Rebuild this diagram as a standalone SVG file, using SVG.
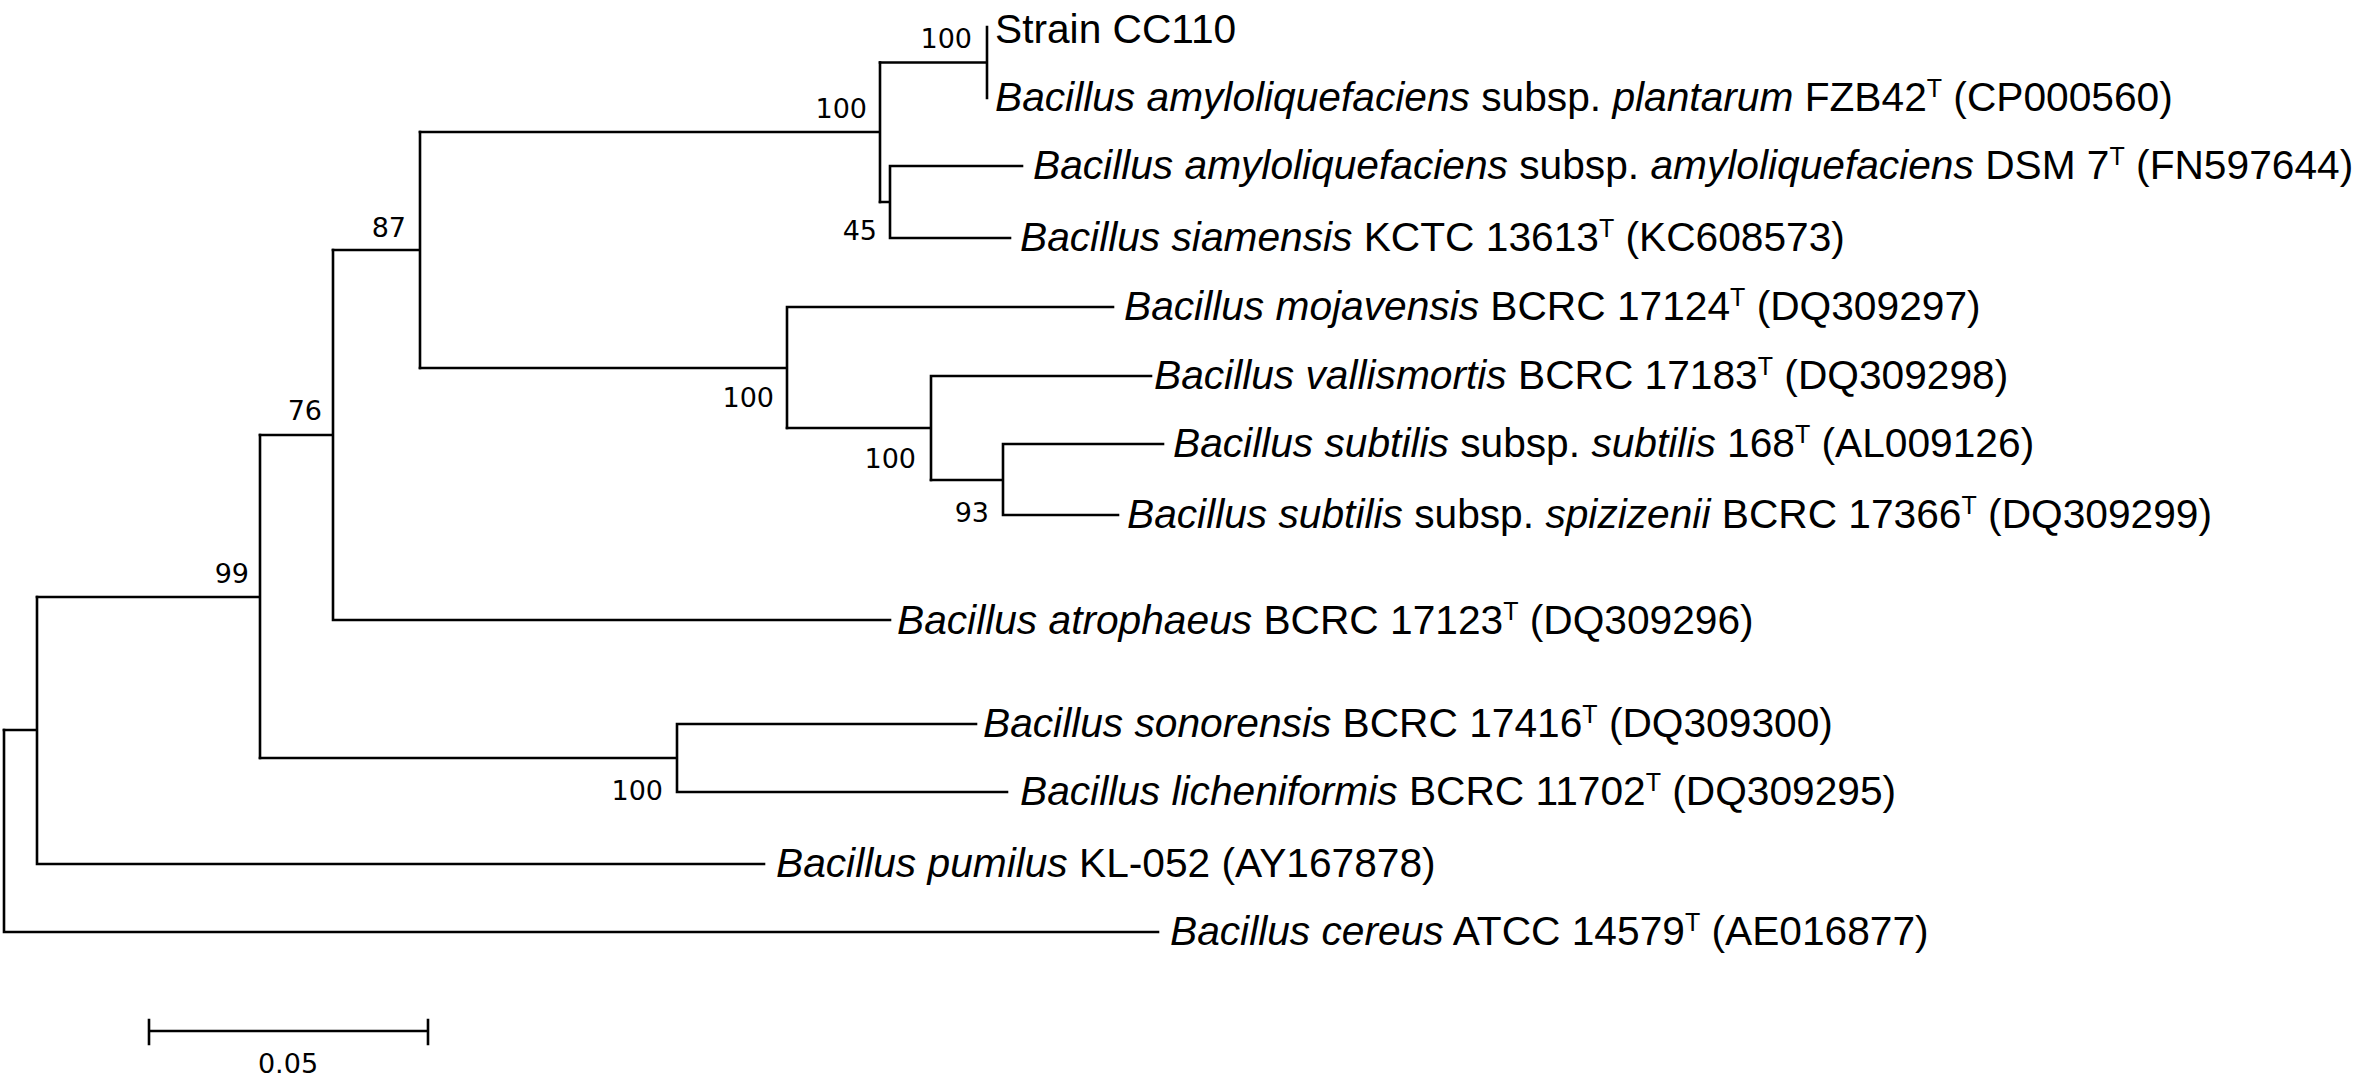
<svg xmlns="http://www.w3.org/2000/svg" width="2362" height="1084" viewBox="0 0 2362 1084">
<style>
.br{fill:none;stroke:#000;stroke-width:2.6;stroke-linecap:square}
.lb{font-family:"Liberation Sans",Arial,sans-serif;font-size:40.7px;fill:#000}
.i{font-style:italic}
.sup{font-size:25px}
.bs{font-family:"DejaVu Sans",Verdana,sans-serif;font-size:27px;fill:#000;text-anchor:end}
.sc{font-family:"DejaVu Sans",Verdana,sans-serif;font-size:27px;fill:#000;text-anchor:middle}
</style>
<rect width="2362" height="1084" fill="#fff"/>
<g id="connectors" class="br">
<path d="M987 27V98M880 62.5H987"/>
<path d="M880 62.5V202M420 132H880"/>
<path d="M890 166V238M880 202H890M890 166H1022M890 238H1010"/>
<path d="M420 132V368M333 250H420"/>
<path d="M787 307V428M420 368H787M787 307H1113"/>
<path d="M931 376V480M787 428H931M931 376H1151"/>
<path d="M1003 444V515M931 480H1003M1003 444H1163M1003 515H1118"/>
<path d="M333 250V620M260 435H333M333 620H890"/>
<path d="M677 724V792M260 758H677M677 724H976M677 792H1007"/>
<path d="M260 435V758M37 597H260"/>
<path d="M37 597V864M4 730H37M37 864H764"/>
<path d="M4 730V932M4 932H1158"/>
</g>
<g id="leaf-cc110"><text class="lb" x="995" y="43">Strain CC110</text></g>
<g id="leaf-fzb42"><text class="lb" x="995" y="111"><tspan class="i">Bacillus amyloliquefaciens</tspan> subsp. <tspan class="i">plantarum</tspan> FZB42<tspan class="sup" dy="-14">T</tspan><tspan dy="14"> (CP000560)</tspan></text></g>
<g id="leaf-dsm7"><text class="lb" x="1033" y="179"><tspan class="i">Bacillus amyloliquefaciens</tspan> subsp. <tspan class="i">amyloliquefaciens</tspan> DSM 7<tspan class="sup" dy="-14">T</tspan><tspan dy="14"> (FN597644)</tspan></text></g>
<g id="leaf-siamensis"><text class="lb" x="1020" y="251"><tspan class="i">Bacillus siamensis</tspan> KCTC 13613<tspan class="sup" dy="-14">T</tspan><tspan dy="14"> (KC608573)</tspan></text></g>
<g id="leaf-mojavensis"><text class="lb" x="1124" y="320"><tspan class="i">Bacillus mojavensis</tspan> BCRC 17124<tspan class="sup" dy="-14">T</tspan><tspan dy="14"> (DQ309297)</tspan></text></g>
<g id="leaf-vallismortis"><text class="lb" x="1154" y="389"><tspan class="i">Bacillus vallismortis</tspan> BCRC 17183<tspan class="sup" dy="-14">T</tspan><tspan dy="14"> (DQ309298)</tspan></text></g>
<g id="leaf-subtilis"><text class="lb" x="1173" y="457"><tspan class="i">Bacillus subtilis</tspan> subsp. <tspan class="i">subtilis</tspan> 168<tspan class="sup" dy="-14">T</tspan><tspan dy="14"> (AL009126)</tspan></text></g>
<g id="leaf-spizizenii"><text class="lb" x="1127" y="528"><tspan class="i">Bacillus subtilis</tspan> subsp. <tspan class="i">spizizenii</tspan> BCRC 17366<tspan class="sup" dy="-14">T</tspan><tspan dy="14"> (DQ309299)</tspan></text></g>
<g id="leaf-atrophaeus"><text class="lb" x="897" y="634"><tspan class="i">Bacillus atrophaeus</tspan> BCRC 17123<tspan class="sup" dy="-14">T</tspan><tspan dy="14"> (DQ309296)</tspan></text></g>
<g id="leaf-sonorensis"><text class="lb" x="983" y="737"><tspan class="i">Bacillus sonorensis</tspan> BCRC 17416<tspan class="sup" dy="-14">T</tspan><tspan dy="14"> (DQ309300)</tspan></text></g>
<g id="leaf-licheniformis"><text class="lb" x="1020" y="805"><tspan class="i">Bacillus licheniformis</tspan> BCRC 11702<tspan class="sup" dy="-14">T</tspan><tspan dy="14"> (DQ309295)</tspan></text></g>
<g id="leaf-pumilus"><text class="lb" x="776" y="877"><tspan class="i">Bacillus pumilus</tspan> KL-052 (AY167878)</text></g>
<g id="leaf-cereus"><text class="lb" x="1170" y="945"><tspan class="i">Bacillus cereus</tspan> ATCC 14579<tspan class="sup" dy="-14">T</tspan><tspan dy="14"> (AE016877)</tspan></text></g>
<g id="node-cc"><text class="bs" x="972" y="48">100</text></g>
<g id="node-amylo"><text class="bs" x="867" y="118">100</text></g>
<g id="node-45"><text class="bs" x="877" y="240">45</text></g>
<g id="node-87"><text class="bs" x="406" y="237">87</text></g>
<g id="node-moj"><text class="bs" x="774" y="407">100</text></g>
<g id="node-sub"><text class="bs" x="916" y="468">100</text></g>
<g id="node-93"><text class="bs" x="989" y="522">93</text></g>
<g id="node-76"><text class="bs" x="322" y="420">76</text></g>
<g id="node-99"><text class="bs" x="249" y="583">99</text></g>
<g id="node-son"><text class="bs" x="663" y="800">100</text></g>
<g id="scale-bar">
<path class="br" d="M149 1031H428M149 1020V1044M428 1020V1044"/>
<text class="sc" x="288" y="1073">0.05</text>
</g>
</svg>
